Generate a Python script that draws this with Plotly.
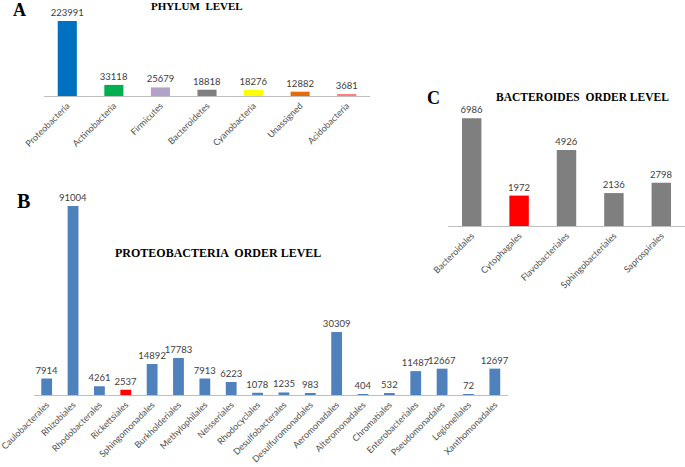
import plotly.graph_objects as go

# ---- Data ----
phylum_names = ["Proteobacteria", "Actinobacteria", "Firmicutes", "Bacteroidetes",
                "Cyanobacteria", "Unassigned", "Acidobacteria"]
phylum_values = [223991, 33118, 25679, 18818, 18276, 12882, 3681]
phylum_colors = ["#0070C0", "#00B050", "#B3A2C7", "#808080", "#FFFF00", "#E46C0A", "#FF7C80"]

proteo_orders = ["Caulobacterales", "Rhizobiales", "Rhodobacterales", "Rickettsiales",
                 "Sphingomonadales", "Burkholderiales", "Methylophilales", "Neisseriales",
                 "Rhodocyclales", "Desulfobacterales", "Desulfuromonadales", "Aeromonadales",
                 "Alteromonadales", "Chromatiales", "Enterobacteriales", "Pseudomonadales",
                 "Legionellales", "Xanthomonadales"]
proteo_values = [7914, 91004, 4261, 2537, 14892, 17783, 7913, 6223, 1078, 1235, 983,
                 30309, 404, 532, 11487, 12667, 72, 12697]
proteo_colors = ["#FF0000" if n == "Rickettsiales" else "#4F81BD" for n in proteo_orders]

bact_orders = ["Bacteroidales", "Cytophagales", "Flavobacteriales", "Sphingobacteriales",
               "Saprospirales"]
bact_values = [6986, 1972, 4926, 2136, 2798]
bact_colors = ["#FF0000" if n == "Cytophagales" else "#7F7F7F" for n in bact_orders]

W, H = 685, 467
FONT = "Lato"
VAL_FONT = dict(family=FONT, size=9.5, color="#404040")
TICK_FONT = dict(family=FONT, size=9, color="#4D4D4D")


def px_x(a, b):
    return [a / W, b / W]


def px_y(top, bottom):
    return [1 - bottom / H, 1 - top / H]


fig = go.Figure()

for names, vals, cols, xa, ya in [
    (phylum_names, phylum_values, phylum_colors, "x", "y"),
    (proteo_orders, proteo_values, proteo_colors, "x2", "y2"),
    (bact_orders, bact_values, bact_colors, "x3", "y3"),
]:
    fig.add_trace(go.Bar(x=names, y=vals, marker=dict(color=cols, line=dict(width=0)),
                         text=[str(v) for v in vals], textposition="outside", textfont=VAL_FONT,
                         constraintext="none", cliponaxis=False, xaxis=xa, yaxis=ya,
                         hoverinfo="x+y"))

xcommon = dict(showline=True, linecolor="#BFBFBF", linewidth=1, ticks="", tickangle=-45,
               tickfont=TICK_FONT, showgrid=False, zeroline=False, fixedrange=True,
               automargin=False)
ycommon = dict(visible=False, showgrid=False, zeroline=False, fixedrange=True, automargin=False)

fig.update_layout(
    width=W, height=H, margin=dict(l=0, r=0, t=0, b=0, pad=0, autoexpand=False),
    paper_bgcolor="white", plot_bgcolor="white", showlegend=False, bargap=0.59,
    xaxis=dict(domain=px_x(44, 370), anchor="y", **xcommon),
    yaxis=dict(domain=px_y(10, 96), range=[0, 256800], anchor="x", **ycommon),
    xaxis2=dict(domain=px_x(33.5, 508), anchor="y2", **xcommon),
    yaxis2=dict(domain=px_y(190, 395), range=[0, 98700], anchor="x2", **ycommon),
    xaxis3=dict(domain=px_x(448, 685), anchor="y3", **xcommon),
    yaxis3=dict(domain=px_y(100, 226), range=[0, 8173], anchor="x3", **ycommon),
)

title_font = dict(family="Liberation Serif", color="black")
annos = [
    ("<b>PHYLUM  LEVEL</b>", 197, 6, 11),
    ("<b>PROTEOBACTERIA  ORDER LEVEL</b>", 217.5, 252.5, 12),
    ("<b>BACTEROIDES  ORDER LEVEL</b>", 582.5, 96.5, 11.5),
    ("<b>A</b>", 19, 10, 18),
    ("<b>B</b>", 23, 201, 20),
    ("<b>C</b>", 433, 97.5, 18),
]
for txt, x, y, s in annos:
    fig.add_annotation(text=txt, x=x / W, y=1 - y / H, xref="paper", yref="paper",
                       showarrow=False, xanchor="center", yanchor="middle",
                       font=dict(size=s, **title_font))

fig.write_html("out.html", config={"responsive": False, "displayModeBar": False},
               post_script="document.body.style.margin='0';document.body.style.overflow='hidden';")
